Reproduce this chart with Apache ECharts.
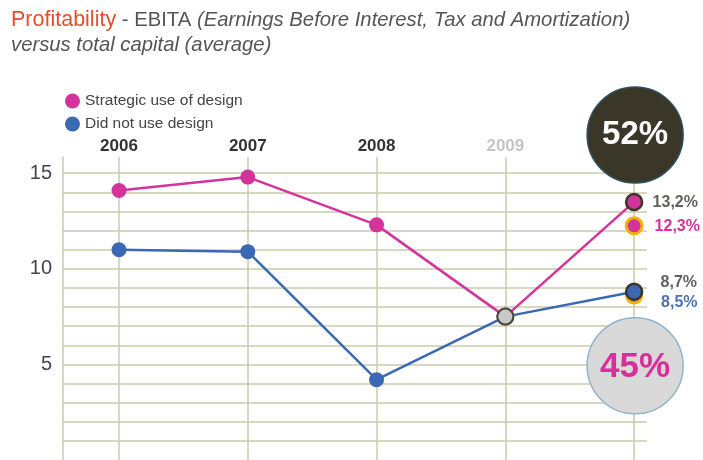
<!DOCTYPE html>
<html>
<head>
<meta charset="utf-8">
<script src="https://cdn.jsdelivr.net/npm/echarts@6/dist/echarts.min.js"></script>
<style>html,body{margin:0;padding:0;background:#fff}#c{width:703px;height:460px}</style>
</head>
<body>
<div id="c"></div>
<script>
// ---- data ----
var years = [2006, 2007, 2008, 2009, 2010];
var yearLabels = ['2006', '2007', '2008', '2009', '2010'];
var strategic = [14.1, 14.8, 12.3, 7.5, 13.5];
var noDesign = [11.0, 10.9, 4.2, 7.5, 8.8];
var strategicAlt = 12.25;   // yellow-ringed 2010 point
var noDesignAlt = 8.6;      // yellow-ringed 2010 point
var endLabels = ['13,2%', '12,3%', '8,7%', '8,5%'];
var bubbleLabels = ['52%', '45%'];
var yTickLabels = [5, 10, 15];
var seriesNames = ['Strategic use of design', 'Did not use design'];

var PINK = '#d4339c', BLUE = '#3b68b3', GRID = '#cbcbae', DARK = '#3a3628', YEL = '#f5b000';
var FONT = '"Liberation Sans", Arial, sans-serif';

function pts(vals, color) {
  return vals.map(function (v, i) {
    var item = { value: [years[i], v] };
    if (i === 3) item.itemStyle = { color: '#c8c8c8', borderColor: '#4a4a3a', borderWidth: 2 }, item.symbolSize = 16;
    if (i === 4) item.itemStyle = { color: color, borderColor: DARK, borderWidth: 2.5 }, item.symbolSize = 16;
    return item;
  });
}
function lbl(text, color, dist, off) {
  return { show: true, position: 'right', distance: dist, offset: off, formatter: text, color: color,
           fontSize: 16, fontWeight: 'bold', fontFamily: FONT };
}

var chart = echarts.init(document.getElementById('c'), null, { renderer: 'canvas' });
chart.setOption({
  animation: false,
  backgroundColor: '#fff',
  title: {
    left: 6, top: 3,
    text: '{o|Profitability}{g| - EBITA }{i|(Earnings Before Interest, Tax and Amortization)}\n{i|versus total capital (average)}',
    textStyle: {
      fontWeight: 'normal',
      rich: {
        o: { color: '#e0502d', fontSize: 21.5, fontWeight: 'normal', fontFamily: FONT, lineHeight: 25 },
        g: { color: '#555', fontSize: 20.3, fontWeight: 'normal', fontFamily: FONT, lineHeight: 25 },
        i: { color: '#555', fontSize: 20.3, fontStyle: 'italic', fontWeight: 'normal', fontFamily: FONT, lineHeight: 25 }
      }
    }
  },
  legend: {
    orient: 'vertical', left: 60, top: 88,
    data: seriesNames, icon: 'circle', itemWidth: 15, itemHeight: 15, itemGap: 7,
    textStyle: { color: '#444', fontSize: 15.5, fontFamily: FONT }
  },
  grid: { left: 63, right: 56, top: 157, bottom: 0, containLabel: false },
  xAxis: {
    type: 'value', position: 'top', min: 2005.565, max: 2010.1,
    axisLine: { show: false }, axisTick: { show: false },
    axisLabel: {
      margin: 2, showMinLabel: false, showMaxLabel: false,
      formatter: function (v) {
        var i = years.indexOf(v);
        if (i < 0) return '';
        return i === 3 ? '{l|' + yearLabels[i] + '}' : '{d|' + yearLabels[i] + '}';
      },
      rich: {
        d: { color: '#333', fontWeight: 'bold', fontSize: 17, fontFamily: FONT },
        l: { color: '#c4c4c4', fontWeight: 'bold', fontSize: 17, fontFamily: FONT }
      }
    },
    splitLine: { show: true, showMinLine: false, showMaxLine: false, lineStyle: { color: GRID, width: 1.5 } }
  },
  yAxis: {
    type: 'value', min: 0, max: 15.85, interval: 1,
    axisLine: { show: true, lineStyle: { color: GRID, width: 1.5 } },
    axisTick: { show: false },
    axisLabel: {
      margin: 11, color: '#444', fontSize: 20, fontFamily: FONT, showMaxLabel: false,
      formatter: function (v) { return yTickLabels.indexOf(v) >= 0 ? String(v) : ''; }
    },
    splitLine: { show: true, showMaxLine: false, showMinLine: false, lineStyle: { color: GRID, width: 1.5 } }
  },
  series: [
    {
      name: 'altBlue', type: 'scatter', z: 2, symbolSize: 15, clip: false,
      data: [{ value: [years[4], noDesignAlt], itemStyle: { color: BLUE, borderColor: YEL, borderWidth: 3, opacity: 1 },
               label: lbl(endLabels[3], '#4a72b8', 18, [0, 7]) }]
    },
    {
      name: seriesNames[1], type: 'line', data: pts(noDesign, BLUE), z: 3,
      lineStyle: { color: BLUE, width: 2.5 }, itemStyle: { color: BLUE }, symbol: 'circle', symbolSize: 15
    },
    {
      name: 'altPink', type: 'scatter', z: 4, symbolSize: 16, clip: false,
      data: [{ value: [years[4], strategicAlt], itemStyle: { color: PINK, borderColor: YEL, borderWidth: 3, opacity: 1 },
               label: lbl(endLabels[1], PINK, 11, [0, 1]) }]
    },
    {
      name: seriesNames[0], type: 'line', data: pts(strategic, PINK), z: 5,
      lineStyle: { color: PINK, width: 2.5 }, itemStyle: { color: PINK }, symbol: 'circle', symbolSize: 15
    },
    {
      name: 'endlabels', type: 'scatter', z: 6, symbolSize: 1, clip: false, itemStyle: { color: 'rgba(0,0,0,0)' },
      data: [
        { value: [years[4], strategic[4]], label: lbl(endLabels[0], '#3a3a30', 18, [0, 1]) },
        { value: [years[4], noDesign[4]], label: lbl(endLabels[2], '#3a3a30', 26, [0, -9]) }
      ]
    }
  ]
});

// annotation bubbles anchored to the 2010 points
var pTop = chart.convertToPixel({ gridIndex: 0 }, [years[4], strategic[4]]);
var pBot = chart.convertToPixel({ gridIndex: 0 }, [years[4], noDesign[4]]);
chart.setOption({
  graphic: [
    { type: 'circle', shape: { cx: pTop[0] + 1, cy: pTop[1] - 67, r: 48 }, z: 10,
      style: { fill: DARK, stroke: '#2f4f5a', lineWidth: 1.5 } },
    { type: 'text', x: pTop[0] + 1, y: pTop[1] - 67, z: 11,
      style: { text: bubbleLabels[0], fill: '#fff', font: 'bold 33px ' + FONT, align: 'center', verticalAlign: 'middle' } },
    { type: 'circle', shape: { cx: pBot[0] + 1, cy: pBot[1] + 74, r: 48 }, z: 10,
      style: { fill: '#d9d9d9', stroke: '#8fb4c6', lineWidth: 1.5 } },
    { type: 'text', x: pBot[0] + 1, y: pBot[1] + 76, z: 11,
      style: { text: bubbleLabels[1], fill: '#d6309a', font: 'bold 35px ' + FONT, align: 'center', verticalAlign: 'middle' } }
  ]
});
</script>
</body>
</html>
